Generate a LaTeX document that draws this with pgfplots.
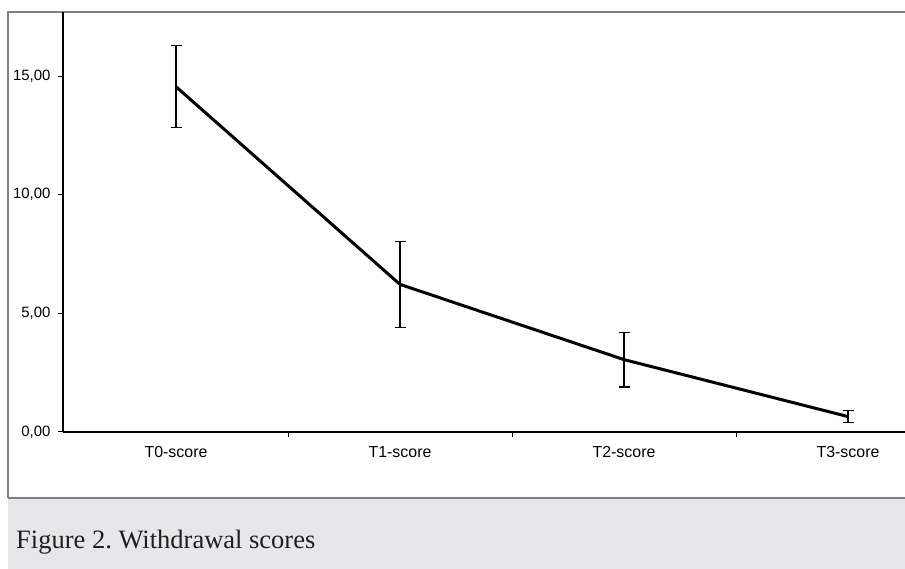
\documentclass[border=0pt]{standalone}
\usepackage{fontspec}
\setmainfont{Liberation Serif}
\newfontfamily\arial{Liberation Sans}
\usepackage{pgfplots}
\pgfplotsset{compat=1.18}
\definecolor{framegray}{HTML}{808080}
\definecolor{capbg}{HTML}{E6E7E9}
\begin{document}
\frenchspacing
\begin{tikzpicture}[x=1bp,y=1bp]
\useasboundingbox (0,0) rectangle (905,569);
\fill[white] (0,0) rectangle (905,569);
\fill[capbg] (8,0) rectangle (905,71);
\draw[framegray, line width=2bp] (8,71) -- (905,71);
\draw[framegray, line width=1.5bp] (8,71) -- (8,557) -- (905,557);
\node[anchor=base west, inner sep=0pt, font=\fontsize{26.6}{30}\selectfont, text=black!88] at (16,20) {Figure 2. Withdrawal scores};
\begin{axis}[
  at={(63bp,137bp)}, anchor=south west,
  scale only axis, width=842bp, height=420bp,
  xmin=-0.5045, xmax=3.2545, ymin=0, ymax=17.7,
  axis lines=left,
  axis line style={line width=1.6bp, -, black},
  clip=false,
  tick align=outside,
  major tick length=5bp,
  tick style={black, line width=1bp},
  ytick={0,5,10,15},
  yticklabels={{0,00},{5,00},{10,00},{15,00}},
  y tick label style={font=\arial\fontsize{15}{17}\selectfont, xshift=-4bp},
  xtick={0.5,1.5,2.5},
  xticklabels={},
  extra x ticks={0,1,2,3},
  extra x tick labels={T0-score,T1-score,T2-score,T3-score},
  extra x tick style={major tick length=0pt, tick label style={font=\arial\fontsize{16}{18}\selectfont, yshift=-11bp}},
]
\addplot[black, line width=3bp, mark=none,
  error bars/.cd, y dir=both, y explicit,
  error bar style={line width=1.2bp, black},
  error mark options={rotate=90, mark size=5.5bp, line width=1.2bp, black}]
  coordinates {
    (0,14.55) +- (0,1.73)
    (1,6.22) +- (0,1.82)
    (2,3.05) +- (0,1.15)
    (3,0.65) +- (0,0.24)
  };
\end{axis}
\end{tikzpicture}
\end{document}
